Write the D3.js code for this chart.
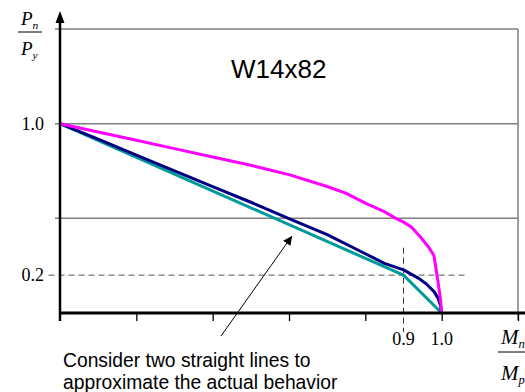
<!DOCTYPE html>
<html><head><meta charset="utf-8">
<script src="https://cdn.jsdelivr.net/npm/d3@7"></script>
<style>body{margin:0;background:#fff}svg{display:block}</style>
</head><body>
<svg id="c" width="525" height="392"></svg>
<script>
// ---- data ----
const tealX = [0, 0.9, 1.0];
const tealY = [1.0, 0.2, 0.0];
const navyX = [0, 0.1, 0.2, 0.3, 0.4, 0.5, 0.6, 0.7, 0.8, 0.85, 0.9, 0.94, 0.96, 0.98, 0.99, 0.997, 1.0];
const navyY = [1.0, 0.918, 0.834, 0.751, 0.668, 0.585, 0.499, 0.414, 0.313, 0.262, 0.228, 0.183, 0.153, 0.113, 0.08, 0.04, 0.0];
const magX = [0, 0.1, 0.2, 0.3, 0.4, 0.5, 0.6, 0.7, 0.75, 0.8, 0.85, 0.88, 0.9, 0.92, 0.945, 0.965, 0.978, 0.98, 0.99, 0.997, 1.0];
const magY = [1.0, 0.956, 0.912, 0.868, 0.824, 0.78, 0.731, 0.668, 0.632, 0.58, 0.535, 0.5, 0.48, 0.455, 0.40, 0.35, 0.31, 0.30, 0.17, 0.07, 0.0];
const gridValues = [0.5, 1.0, 1.5];
const xTickValues = [0.2, 0.4, 0.6, 0.8, 1.0, 1.2];
const xLabelValues = [0.9, 1.0];
const yLabelValues = [1.0, 0.2];
const refPoint = [0.9, 0.2];
const title = "W14x82";
const note = ["Consider two straight lines to", "approximate the actual behavior"];

// ---- chart ----
const svg = d3.select("#c");
const x = d3.scaleLinear().domain([0, 1.2]).range([60, 518]);
const y = d3.scaleLinear().domain([0, 1.5]).range([313, 29]);

// gridlines
svg.append("g").selectAll("line").data(gridValues).join("line")
  .attr("x1", x(0) - 5).attr("x2", x(1.2))
  .attr("y1", d => y(d)).attr("y2", d => y(d))
  .attr("stroke", "#7f7f7f").attr("stroke-width", 1.5);
// right border
svg.append("line").attr("x1", x(1.2)).attr("x2", x(1.2)).attr("y1", y(1.5)).attr("y2", y(0) + 7)
  .attr("stroke", "#7f7f7f").attr("stroke-width", 1.5);

// x ticks
const xa = svg.append("g").attr("transform", `translate(0,${y(0)})`)
  .call(d3.axisBottom(x).tickValues(xTickValues).tickSize(8).tickFormat(""));
xa.select(".domain").remove();
xa.selectAll(".tick line").attr("stroke", "#000").attr("stroke-width", 1.3);

// dashed reference lines
svg.append("line").attr("x1", x(-0.03)).attr("x2", x(1.06)).attr("y1", y(refPoint[1])).attr("y2", y(refPoint[1]))
  .attr("stroke", "#555").attr("stroke-width", 1).attr("stroke-dasharray", "6,4");
svg.append("line").attr("x1", x(refPoint[0])).attr("x2", x(refPoint[0])).attr("y1", y(0.345)).attr("y2", y(0) + 19)
  .attr("stroke", "#333").attr("stroke-width", 1).attr("stroke-dasharray", "6,4");

// curves
const line = d3.line().x(d => x(d[0])).y(d => y(d[1]));
function draw(xs, ys, color) {
  svg.append("path").datum(xs.map((v, i) => [v, ys[i]]))
    .attr("d", line).attr("fill", "none").attr("stroke", color)
    .attr("stroke-width", 3).attr("stroke-linejoin", "round");
}
draw(tealX, tealY, "#009a9a");
draw(navyX, navyY, "#000080");
draw(magX, magY, "#ff00ff");

// axes (thick black)
svg.append("line").attr("x1", x(0)).attr("x2", 525).attr("y1", y(0)).attr("y2", y(0))
  .attr("stroke", "#000").attr("stroke-width", 3);
svg.append("line").attr("x1", x(0)).attr("x2", x(0)).attr("y1", y(0) + 8).attr("y2", 20)
  .attr("stroke", "#000").attr("stroke-width", 2.5);
svg.append("path").attr("d", `M${x(0)},11 L${x(0) - 4.5},23 L${x(0) + 4.5},23 Z`).attr("fill", "#000");

// tick labels
svg.append("g").selectAll("text").data(yLabelValues).join("text")
  .attr("x", 44).attr("y", d => y(d) + 6).attr("text-anchor", "end")
  .attr("font-family", "Liberation Serif, Times New Roman, serif").attr("font-size", 18)
  .text(d => d3.format(".1f")(d));
svg.append("g").selectAll("text").data(xLabelValues).join("text")
  .attr("x", d => x(d)).attr("y", 345).attr("text-anchor", "middle")
  .attr("font-family", "Liberation Serif, Times New Roman, serif").attr("font-size", 18)
  .text(d => d3.format(".1f")(d));

// axis labels (fractions)
const serif = "Liberation Serif, Times New Roman, serif";
function frac(cx, topBase, barY, botBase, sym, subTop, subBot, fs, barW) {
  const g = svg.append("g").attr("font-family", serif).attr("font-style", "italic");
  const t1 = g.append("text").attr("x", cx).attr("y", topBase).attr("font-size", fs);
  t1.append("tspan").text(sym);
  t1.append("tspan").attr("font-size", fs * 0.6).attr("dy", 4).text(subTop);
  g.append("line").attr("x1", cx - 3).attr("x2", cx - 3 + barW).attr("y1", barY).attr("y2", barY)
    .attr("stroke", "#000").attr("stroke-width", 1);
  const t2 = g.append("text").attr("x", cx).attr("y", botBase).attr("font-size", fs);
  t2.append("tspan").text(sym);
  t2.append("tspan").attr("font-size", fs * 0.6).attr("dy", 4).text(subBot);
}
frac(21, 25, 32, 55, "P", "n", "y", 19, 24);
frac(501, 344, 352, 380, "M", "n", "p", 21, 30);

// title
svg.append("text").attr("x", 231).attr("y", 78)
  .attr("font-family", "Liberation Sans, Arial, sans-serif").attr("font-size", 26).text(title);

// annotation
svg.append("defs").append("marker").attr("id", "ah").attr("viewBox", "0 0 10 10")
  .attr("refX", 10).attr("refY", 5).attr("markerWidth", 9).attr("markerHeight", 9)
  .attr("markerUnits", "userSpaceOnUse").attr("orient", "auto")
  .append("path").attr("d", "M0,0 L10,5 L0,10 Z").attr("fill", "#000");
svg.append("line").attr("x1", 221).attr("y1", 336).attr("x2", 292).attr("y2", 236)
  .attr("stroke", "#000").attr("stroke-width", 1).attr("marker-end", "url(#ah)");
svg.append("g").selectAll("text").data(note).join("text")
  .attr("x", 63).attr("y", (d, i) => 367 + i * 22)
  .attr("font-family", "Liberation Sans, Arial, sans-serif").attr("font-size", 19.3)
  .text(d => d);
</script>
</body></html>
